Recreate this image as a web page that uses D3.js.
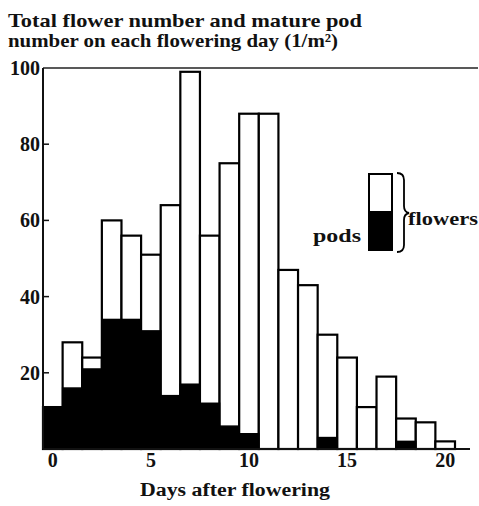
<!DOCTYPE html>
<html>
<head>
<meta charset="utf-8">
<script src="https://cdn.jsdelivr.net/npm/d3@7/dist/d3.min.js"></script>
<style>
  html, body { margin: 0; padding: 0; background: #fff; }
  svg { display: block; }
  text { font-family: "Liberation Serif", "DejaVu Serif", serif; fill: #111; font-weight: bold; }
</style>
</head>
<body>
<svg id="chart" width="479" height="506"></svg>
<script>
// Days after flowering (0..20)
const days = d3.range(0, 21);
// Total flowers opened on each flowering day (per m²)
const flowers = [11, 28, 24, 60, 56, 51, 64, 99, 56, 75, 88, 88, 47, 43, 30, 24, 11, 19, 8, 7, 2];
// Flowers of that day which went on to become mature pods (per m²)
const pods = [11, 16, 21, 34, 34, 31, 14, 17, 12, 6, 4, 0, 0, 0, 3, 0, 0, 0, 2, 0, 0];
const xTickValues = [0, 5, 10, 15, 20];
const yTickValues = [20, 40, 60, 80, 100];

const svg = d3.select("#chart");
const plotLeft = 43, plotRight = 455, plotTop = 68, plotBottom = 449;

const x = d3.scaleBand().domain(days).range([plotLeft, plotRight]).padding(0);
const y = d3.scaleLinear().domain([0, 100]).range([plotBottom, plotTop]);

// Title
const title = svg.append("g").style("font-size", "19px");
title.append("text").attr("x", 8).attr("y", 27)
  .attr("textLength", 354).attr("lengthAdjust", "spacingAndGlyphs")
  .text("Total flower number and mature pod");
title.append("text").attr("x", 8).attr("y", 47)
  .attr("textLength", 330).attr("lengthAdjust", "spacingAndGlyphs")
  .text("number on each flowering day (1/m²)");

// Flower bars (white, outlined)
svg.append("g").selectAll("rect.fl").data(days).join("rect")
  .attr("class", "fl")
  .attr("x", d => x(d))
  .attr("y", d => y(flowers[d]))
  .attr("width", x.bandwidth())
  .attr("height", d => y(0) - y(flowers[d]))
  .attr("fill", "#fff")
  .attr("stroke", "#000")
  .attr("stroke-width", 2.2);

// Pod bars (solid black)
svg.append("g").selectAll("rect.pd").data(days.filter(d => pods[d] > 0)).join("rect")
  .attr("class", "pd")
  .attr("x", d => x(d))
  .attr("y", d => y(pods[d]))
  .attr("width", x.bandwidth())
  .attr("height", d => y(0) - y(pods[d]))
  .attr("fill", "#000")
  .attr("stroke", "#000")
  .attr("stroke-width", 1.5);

// Frame: top rule, left axis, baseline
svg.append("line").attr("x1", plotLeft).attr("x2", 478).attr("y1", plotTop).attr("y2", plotTop)
  .attr("stroke", "#222").attr("stroke-width", 1.4);
svg.append("line").attr("x1", plotLeft).attr("x2", 470).attr("y1", plotBottom).attr("y2", plotBottom)
  .attr("stroke", "#111").attr("stroke-width", 2);
svg.append("line").attr("x1", plotLeft).attr("x2", plotLeft).attr("y1", plotTop).attr("y2", plotBottom)
  .attr("stroke", "#111").attr("stroke-width", 2);

// Y axis: labels left of the axis, short ticks inside
const yAxis = d3.axisLeft(y).tickValues(yTickValues).tickSize(0).tickPadding(3);
const gy = svg.append("g").attr("transform", `translate(${plotLeft},0)`).call(yAxis);
gy.select(".domain").remove();
gy.selectAll("text")
  .style("font-family", "'Liberation Serif', serif")
  .style("font-weight", "900").style("font-size", "20px").style("fill", "#111");
svg.append("g").selectAll("line").data(yTickValues.filter(v => v < 100)).join("line")
  .attr("x1", plotLeft).attr("x2", plotLeft + 6)
  .attr("y1", d => y(d)).attr("y2", d => y(d))
  .attr("stroke", "#111").attr("stroke-width", 1.5);

// X axis: labels centred under their day
const xAxis = d3.axisBottom(x).tickValues(xTickValues).tickSize(0).tickPadding(4);
const gx = svg.append("g").attr("transform", `translate(0,${plotBottom})`).call(xAxis);
gx.select(".domain").remove();
gx.selectAll("text")
  .style("font-family", "'Liberation Serif', serif")
  .style("font-weight", "900").style("font-size", "20px").style("fill", "#111");

// X axis title
svg.append("text").attr("x", 140).attr("y", 496)
  .style("font-size", "18px")
  .attr("textLength", 190).attr("lengthAdjust", "spacingAndGlyphs")
  .text("Days after flowering");

// Legend
const lg = svg.append("g");
lg.append("rect").attr("x", 369).attr("y", 174).attr("width", 23).attr("height", 76)
  .attr("fill", "#fff").attr("stroke", "#000").attr("stroke-width", 2);
lg.append("rect").attr("x", 369).attr("y", 212).attr("width", 23).attr("height", 38)
  .attr("fill", "#000").attr("stroke", "#000").attr("stroke-width", 2);
lg.append("text").attr("x", 313).attr("y", 242).style("font-size", "18px")
  .attr("textLength", 48).attr("lengthAdjust", "spacingAndGlyphs")
  .text("pods");
lg.append("path")
  .attr("d", "M397,173 Q404,173 404,180 L404,206 Q404,212 409,213 Q404,214 404,220 L404,245 Q404,252 397,252")
  .attr("fill", "none").attr("stroke", "#000").attr("stroke-width", 1.8);
lg.append("text").attr("x", 408).attr("y", 225).style("font-size", "18px")
  .attr("textLength", 70).attr("lengthAdjust", "spacingAndGlyphs")
  .text("flowers");
</script>
</body>
</html>
